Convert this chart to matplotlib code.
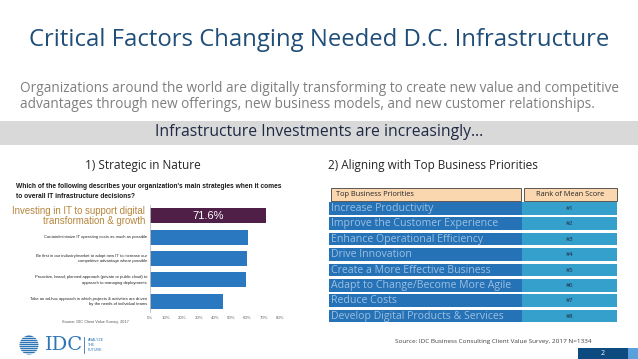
import matplotlib
matplotlib.use("Agg")
import matplotlib.pyplot as plt
from matplotlib.patches import Rectangle, Circle

# ---- data ------------------------------------------------------------------
strategies = [
    "Investing in IT to support digital\ntransformation & growth",
    "Contain/minimize IT operating costs as much as possible",
    "Be first in our industry/market to adopt new IT to increase our\ncompetitive advantage where possible",
    "Proactive, broad, planned approach (private or public cloud) to\napproach to managing deployments",
    "Take an ad-hoc approach in which projects & activities are driven\nby the needs of individual teams",
]
strategy_pct = [71.6, 60.5, 59.9, 59.0, 44.9]
pct_ticks = [0, 10, 20, 30, 40, 50, 60, 70, 80]

priorities = [
    "Increase Productivity",
    "Improve the Customer Experience",
    "Enhance Operational Efficiency",
    "Drive Innovation",
    "Create a More Effective Business",
    "Adapt to Change/Become More Agile",
    "Reduce Costs",
    "Develop Digital Products & Services",
]
ranks = ["#1", "#2", "#3", "#4", "#5", "#6", "#7", "#8"]

# ---- palette ---------------------------------------------------------------
NAVY = "#1f4e79"
BAR = "#2a78bf"
PURPLE = "#4f1f48"
GOLD = "#b7853d"
CELL_L = "#2672b6"
CELL_R = "#35a0cb"
PEACH = "#fbd7b0"

W, H = 638, 359
fig = plt.figure(figsize=(W / 100, H / 100), dpi=100)
fig.patch.set_facecolor("white")

# pixel-space overlay for slide furniture
bg = fig.add_axes([0, 0, 1, 1])
bg.set_xlim(0, W)
bg.set_ylim(H, 0)
bg.axis("off")

bg.text(W / 2, 40, "Critical Factors Changing Needed D.C. Infrastructure",
        ha="center", va="center", fontsize=17.2, color=NAVY, family="Open Sans")
bg.text(20, 88, "Organizations around the world are digitally transforming to create new value and competitive",
        ha="left", va="center", fontsize=9.8, color="#7f7f7f", family="Open Sans")
bg.text(20, 105, "advantages through new offerings, new business models, and new customer relationships.",
        ha="left", va="center", fontsize=9.8, color="#7f7f7f", family="Open Sans")

bg.add_patch(Rectangle((0, 121), W, 24, facecolor="#d9d9d9", edgecolor="none"))
bg.text(W / 2, 132.5, "Infrastructure Investments are increasingly…",
        ha="center", va="center", fontsize=11.3, color="#1f2a44", family="Open Sans")

bg.text(143, 165, "1) Strategic in Nature", ha="center", va="center",
        fontsize=8.5, color="#262626", family="Open Sans")
bg.text(328, 165, "2) Aligning with Top Business Priorities", ha="left", va="center",
        fontsize=8.5, color="#262626", family="Open Sans")

bg.text(16, 187, "Which of the following describes your organization's main strategies when it comes",
        ha="left", va="center", fontsize=4.8, color="#1a1a1a", weight="bold",
        family="Liberation Sans")
bg.text(16, 196, "to overall IT infrastructure decisions?",
        ha="left", va="center", fontsize=4.8, color="#1a1a1a", weight="bold",
        family="Liberation Sans")
bg.text(95, 322, "Source: IDC Client Value Survey, 2017", ha="center", va="center",
        fontsize=2.8, color="#555555", family="Liberation Sans")

# ---- left: bar chart -------------------------------------------------------
ax = fig.add_axes([150 / W, 1 - 312 / H, 130 / W, 107 / H])
ypos = list(range(len(strategies)))
colors = [PURPLE] + [BAR] * (len(strategies) - 1)
ax.barh(ypos, strategy_pct, height=0.7, color=colors, edgecolor="none")
ax.set_ylim(len(strategies) - 0.5, -0.5)
ax.set_xlim(0, 80)
ax.set_xticks(pct_ticks)
ax.set_xticklabels([f"{t}%" for t in pct_ticks], fontsize=3.2, color="#666666",
                   family="Liberation Sans")
ax.set_yticks([])
ax.tick_params(axis="x", length=0, pad=3)
for s in ["top", "right", "bottom"]:
    ax.spines[s].set_visible(False)
ax.spines["left"].set_color("#bfbfbf")
ax.spines["left"].set_linewidth(0.6)
ax.patch.set_alpha(0)

ax.text(strategy_pct[0] / 2, 0, f"{strategy_pct[0]}%", ha="center", va="center",
        color="white", fontsize=8, family="Liberation Sans")
for i, lab in enumerate(strategies):
    if i == 0:
        ax.text(-3, i, lab, ha="right", va="center", fontsize=6.9, color=GOLD,
                family="Liberation Sans", linespacing=1.05, clip_on=False)
    else:
        ax.text(-1.8, i, lab, ha="right", va="center", fontsize=3.0, color="#222222",
                family="Liberation Sans", linespacing=1.5, clip_on=False)

# ---- right: priorities table -----------------------------------------------
xl0, xl1, xr1 = 329, 522, 617
bg.add_patch(Rectangle((331, 188), 190, 13, facecolor=PEACH, edgecolor="#404040", lw=0.6))
bg.add_patch(Rectangle((524, 188), 93, 13, facecolor=PEACH, edgecolor="#404040", lw=0.6))
bg.text(336, 194.5, "Top Business Priorities", ha="left", va="center",
        fontsize=5.3, color="#262626", family="Open Sans")
bg.text(570.5, 194.5, "Rank of Mean Score", ha="center", va="center",
        fontsize=5.3, color="#262626", family="Open Sans")
for i, (p, r) in enumerate(zip(priorities, ranks)):
    top = 202 + i * 15.4
    bg.add_patch(Rectangle((xl0, top), xl1 - xl0, 12.5, facecolor=CELL_L, edgecolor="none"))
    bg.add_patch(Rectangle((xl1, top), xr1 - xl1, 12.5, facecolor=CELL_R, edgecolor="none"))
    bg.text(xl0 + 2, top + 6.5, p, ha="left", va="center", fontsize=7.6,
            color="#b9d3ec", family="Open Sans", alpha=0.8)
    bg.text((xl1 + xr1) / 2, top + 6.5, r, ha="center", va="center", fontsize=4.5,
            color="#1f2a44", family="Open Sans")

bg.text(395, 341, "Source: IDC Business Consulting Client Value Survey, 2017 N=1334",
        ha="left", va="center", fontsize=4.6, color="#404040", family="Open Sans")

# ---- footer ----------------------------------------------------------------
bg.add_patch(Rectangle((578, 348), 50, 11, facecolor="#0d4a80", edgecolor="none"))
bg.add_patch(Rectangle((628, 348), 10, 11, facecolor="#5aa0dc", edgecolor="none"))
bg.text(603, 353.5, "2", ha="center", va="center", fontsize=5, color="white",
        family="Open Sans")

bg.add_patch(Circle((29, 345), 9.5, facecolor="#2f75b5", edgecolor="none"))
for k in range(-4, 5):
    bg.plot([14, 44], [345 + k * 2.1, 345 + k * 2.1], color="white", lw=0.5)
bg.text(64, 345, "IDC", ha="center", va="center", fontsize=14, color="#2f75b5",
        family="DejaVu Serif")
bg.plot([84, 84], [337, 353], color="#2f75b5", lw=0.6)
bg.text(88, 345, "ANALYZE\nTHE\nFUTURE", ha="left", va="center", fontsize=2.6,
        color="#2f75b5", family="Liberation Sans", linespacing=1.2)

fig.savefig("out.png", dpi=100)
